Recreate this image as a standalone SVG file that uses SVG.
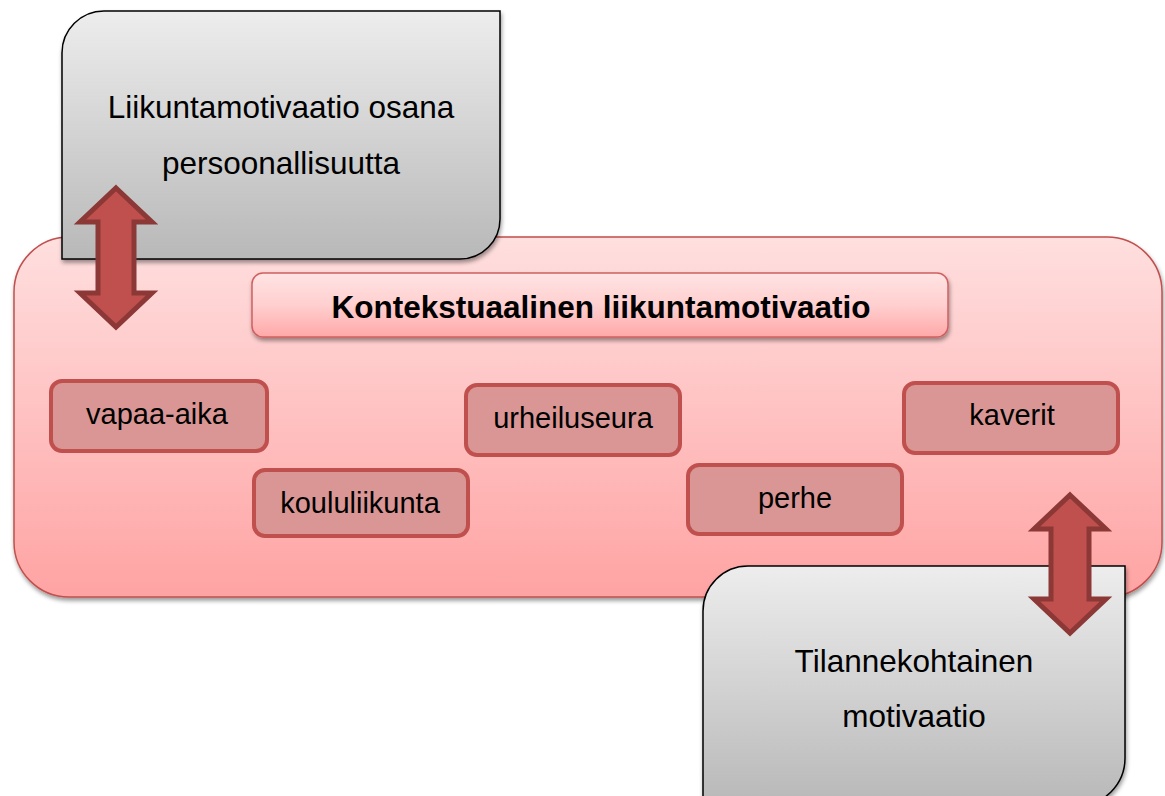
<svg xmlns="http://www.w3.org/2000/svg" width="1165" height="796" viewBox="0 0 1165 796">
  <defs>
    <linearGradient id="gGray" x1="0" y1="0" x2="0" y2="1">
      <stop offset="0" stop-color="#ededed"/>
      <stop offset="1" stop-color="#b8b8b8"/>
    </linearGradient>
    <linearGradient id="gGray2" x1="0" y1="566" x2="0" y2="806" gradientUnits="userSpaceOnUse">
      <stop offset="0" stop-color="#ededed"/>
      <stop offset="1" stop-color="#b8b8b8"/>
    </linearGradient>
    <linearGradient id="gPink" x1="0" y1="0" x2="0" y2="1">
      <stop offset="0" stop-color="#ffdfdf"/>
      <stop offset="1" stop-color="#ffa3a3"/>
    </linearGradient>
    <linearGradient id="gTitle" x1="0" y1="0" x2="0" y2="1">
      <stop offset="0" stop-color="#ffe4e4"/>
      <stop offset="0.5" stop-color="#ffcfcf"/>
      <stop offset="1" stop-color="#ffa8a8"/>
    </linearGradient>
    <filter id="shadow" x="-10%" y="-10%" width="120%" height="130%">
      <feDropShadow dx="1" dy="3" stdDeviation="2" flood-color="#000" flood-opacity="0.4"/>
    </filter>
  </defs>
  <style>
    text { font-family: "Liberation Sans", Arial, sans-serif; fill: #000; text-anchor: middle; }
    .big { font-size: 31.5px; }
    .title { font-size: 31.5px; font-weight: bold; }
    .lbl { font-size: 29px; }
    .gray { stroke: #000; stroke-width: 1.5; filter: url(#shadow); }
    .item { fill: #d99694; stroke: #c0504d; stroke-width: 4; }
    .arrow { fill: #c0504d; stroke: #8c3836; stroke-width: 5; stroke-linejoin: miter; }
  </style>

  <g id="context">
    <rect x="14" y="237" width="1148" height="360" rx="55" ry="55" fill="url(#gPink)" stroke="#c0504d" stroke-width="1.5" filter="url(#shadow)"/>
  </g>

  <g id="personality">
    <path class="gray" d="M62,53 A42,42 0 0 1 104,11 L500,11 L500,219 A40,40 0 0 1 460,259 L62,259 Z" fill="url(#gGray)"/>
    <text class="big" x="281" y="118">Liikuntamotivaatio osana</text>
    <text class="big" x="281" y="174">persoonallisuutta</text>
  </g>

  <g id="situational">
    <path class="gray" d="M703,611 A45,45 0 0 1 748,566 L1125,566 L1125,758 A48,48 0 0 1 1077,806 L703,806 Z" fill="url(#gGray2)"/>
    <text class="big" x="914" y="672">Tilannekohtainen</text>
    <text class="big" x="914" y="727">motivaatio</text>
  </g>

  <g id="title">
    <rect x="252" y="273" width="696" height="64" rx="11" ry="11" fill="url(#gTitle)" stroke="#d06060" stroke-width="1.5" filter="url(#shadow)"/>
    <text class="title" x="601" y="318">Kontekstuaalinen liikuntamotivaatio</text>
  </g>

  <g id="vapaa-aika">
    <rect class="item" x="51" y="381" width="216" height="70" rx="11" ry="11"/>
    <text class="lbl" x="157" y="424">vapaa-aika</text>
  </g>
  <g id="koululiikunta">
    <rect class="item" x="254" y="470" width="214" height="66" rx="11" ry="11"/>
    <text class="lbl" x="360" y="513">koululiikunta</text>
  </g>
  <g id="urheiluseura">
    <rect class="item" x="466" y="385" width="214" height="70" rx="11" ry="11"/>
    <text class="lbl" x="573" y="428">urheiluseura</text>
  </g>
  <g id="perhe">
    <rect class="item" x="688" y="465" width="214" height="69" rx="11" ry="11"/>
    <text class="lbl" x="795" y="508">perhe</text>
  </g>
  <g id="kaverit">
    <rect class="item" x="904" y="383" width="214" height="70" rx="11" ry="11"/>
    <text class="lbl" x="1012" y="425">kaverit</text>
  </g>

  <g id="connectors">
    <path class="arrow" d="M116,188 L152,222 L134,222 L134,293 L152,293 L116,327 L80,293 L98,293 L98,222 L80,222 Z"/>
    <path class="arrow" d="M1070,495 L1106,529 L1089,529 L1089,599 L1106,599 L1070,633 L1034,599 L1051,599 L1051,529 L1034,529 Z"/>
  </g>
</svg>
